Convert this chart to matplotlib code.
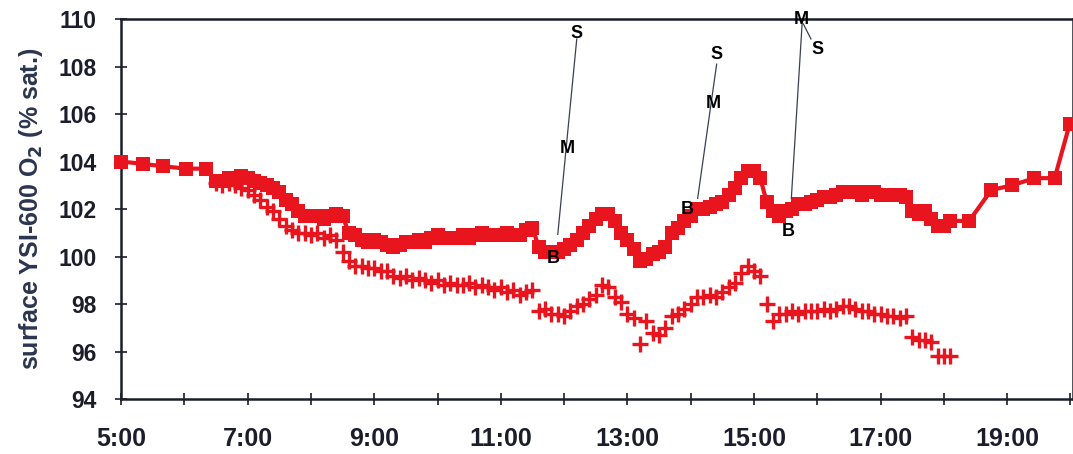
import numpy as np
import pandas as pd
import matplotlib
matplotlib.use("Agg")
import matplotlib.pyplot as plt
from matplotlib.ticker import FixedLocator, FuncFormatter

plt.rcParams['font.family'] = ['Liberation Sans', 'DejaVu Sans']

RED = '#e8141e'
INK = '#1b1d2b'

# Early and late hand samples of the surface sonde (decimal hours, % sat.)
early_times = [5.00, 5.35, 5.66, 6.03, 6.34]
early_sat = [104.0, 103.9, 103.8, 103.7, 103.7]
late_times = [18.40, 18.75, 19.08, 19.43, 19.75, 19.99]
late_sat = [101.5, 102.8, 103.0, 103.3, 103.3, 105.6]

# Logged record, every 6 minutes from 06:30 to 18:06
log_start = "2000-01-01 06:30"
log_end = "2000-01-01 18:06"
log_step = "6min"

surface_sat = [
    103.2, 103.2, 103.3, 103.3,
    103.4, 103.3, 103.2, 103.1, 103.0, 102.9, 102.7, 102.4, 102.2, 101.9,
    101.7, 101.7, 101.7, 101.6, 101.7, 101.8, 101.7, 101.0, 100.9, 100.7,
    100.6, 100.7, 100.6, 100.5, 100.4, 100.5, 100.6, 100.6, 100.7, 100.6,
    100.8, 100.9, 100.8, 100.8, 100.8, 100.9, 100.8, 100.9, 101.0, 100.9,
    100.9, 100.9, 101.0, 100.9, 100.9, 101.1, 101.2, 100.4, 100.2, 100.2,
    100.2, 100.3, 100.5, 100.7, 101.0, 101.3, 101.6, 101.8, 101.8, 101.5,
    101.0, 100.7, 100.3, 99.8, 99.9, 100.1, 100.2, 100.4, 101.0, 101.2,
    101.5, 101.7, 102.0, 102.0, 102.1, 102.2, 102.3, 102.6, 102.9, 103.3,
    103.6, 103.6, 103.3, 102.3, 101.9, 101.7, 101.9, 102.0, 102.2, 102.2,
    102.3, 102.4, 102.5, 102.5, 102.6, 102.7, 102.7, 102.7, 102.6, 102.7,
    102.7, 102.6, 102.6, 102.6, 102.6, 102.5, 101.9, 101.8, 101.9, 101.6,
    101.3, 101.3, 101.5,
]

second_sat = [
    103.1, 103.0, 103.1, 103.0,
    102.9, 102.8, 102.6, 102.4, 102.1, 101.9, 101.6, 101.3, 101.1, 101.0,
    101.0, 100.9, 101.0, 100.8, 100.9, 100.7, 100.2, 99.8, 99.6, 99.6,
    99.5, 99.5, 99.4, 99.4, 99.2, 99.1, 99.2, 99.0, 99.1, 99.0,
    98.9, 99.0, 98.8, 98.9, 98.8, 98.8, 98.9, 98.7, 98.8, 98.7,
    98.6, 98.7, 98.5, 98.6, 98.4, 98.5, 98.6, 97.7, 97.8, 97.6,
    97.6, 97.5, 97.7, 97.9, 98.0, 98.2, 98.4, 98.8, 98.7, 98.3,
    98.1, 97.6, 97.4, 96.3, 97.3, 96.8, 96.7, 97.0, 97.5, 97.6,
    97.8, 98.0, 98.3, 98.3, 98.4, 98.3, 98.5, 98.7, 98.9, 99.3,
    99.6, 99.4, 99.2, 98.0, 97.3, 97.6, 97.6, 97.7, 97.6, 97.7,
    97.7, 97.7, 97.8, 97.7, 97.8, 97.9, 97.9, 97.8, 97.7, 97.7,
    97.6, 97.6, 97.5, 97.5, 97.4, 97.5, 96.6, 96.5, 96.5, 96.4,
    95.8, 95.8, 95.8,
]

# B / M / S depth markers: (label, time, value) and their leader lines
depth_labels = [
    ("B", 11.83, 99.92), ("M", 12.05, 104.56), ("S", 12.19, 109.41),
    ("B", 13.94, 101.98), ("M", 14.35, 106.46), ("S", 14.41, 108.52),
    ("B", 15.54, 101.05), ("M", 15.74, 110.00), ("S", 16.00, 108.73),
]
leader_lines = [
    ([11.90, 12.20], [100.93, 109.16]),
    ([14.11, 14.41], [102.45, 108.10]),
    ([15.59, 15.76], [102.45, 109.79]),
    ([15.78, 15.90], [109.79, 109.16]),
]

y_ticks = [94, 96, 98, 100, 102, 104, 106, 108, 110]
hour_ticks = list(range(5, 21))
labelled_hours = [5, 7, 9, 11, 13, 15, 17, 19]

stamps = pd.date_range(log_start, log_end, freq=log_step)
log_hours = (stamps.hour + stamps.minute / 60.0).to_numpy()

surface_t = np.concatenate([early_times, log_hours, late_times])
surface_v = np.concatenate([early_sat, surface_sat, late_sat])

fig = plt.figure(figsize=(10.73, 4.54), dpi=100)
ax = fig.add_axes([0.1128, 0.1211, 0.8872, 0.8370])

ax.plot(log_hours, second_sat, linestyle='none', marker='+', markersize=11.5,
        markeredgewidth=2.4, color=RED, zorder=2)
ax.plot(surface_t, surface_v, color=RED, linewidth=3, marker='s',
        markersize=10.5, markeredgewidth=0, zorder=3, clip_on=False)

for xs, ys in leader_lines:
    ax.plot(xs, ys, color='#3a3f55', linewidth=0.9, zorder=4, clip_on=False)
for lab, tx, ty in depth_labels:
    ax.text(tx, ty, lab, ha='center', va='center', fontsize=13,
            fontweight='bold', color='black', zorder=5, clip_on=False)

ax.set_xlim(5, 20.04)
ax.set_ylim(94, 110)
ax.yaxis.set_major_locator(FixedLocator(y_ticks))
ax.xaxis.set_major_locator(FixedLocator(hour_ticks))
ax.xaxis.set_major_formatter(FuncFormatter(
    lambda v, p: f"{int(round(v))}:00" if int(round(v)) in labelled_hours else ""))

for sp in ax.spines.values():
    sp.set_color(INK)
    sp.set_linewidth(1.8)
ax.tick_params(axis='both', direction='inout', length=9, width=1.2, color=INK,
               labelcolor=INK)
ax.tick_params(axis='y', pad=13, labelsize=16.5)
ax.tick_params(axis='x', pad=16, labelsize=18)
for lbl in ax.get_xticklabels() + ax.get_yticklabels():
    lbl.set_fontweight('bold')

ax.set_ylabel("surface YSI-600 O$_\\mathbf{2}$ (% sat.)", fontsize=18,
              fontweight='bold', color='#2b3550', labelpad=10)

fig.savefig("out.png", dpi=100)
